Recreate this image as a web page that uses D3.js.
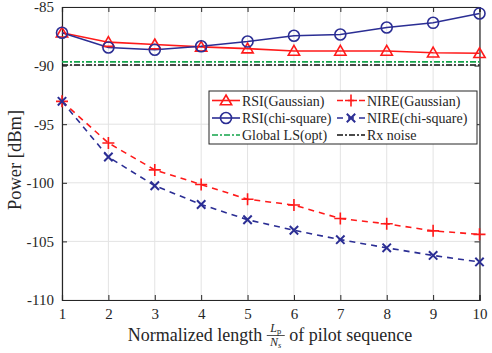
<!DOCTYPE html>
<html><head><meta charset="utf-8">
<script src="https://cdn.jsdelivr.net/npm/d3@7"></script>
<style>body{margin:0;background:#fff}svg{display:block}text{font-family:"Liberation Serif","Times New Roman",serif;fill:#262626}</style>
</head><body>
<script>
const xValues = [1,2,3,4,5,6,7,8,9,10];
const rsiGaussian = [-87.2,-88.0,-88.2,-88.4,-88.55,-88.75,-88.75,-88.75,-88.9,-88.95];
const rsiChi = [-87.2,-88.45,-88.65,-88.35,-87.95,-87.45,-87.35,-86.75,-86.35,-85.55];
const nireGaussian = [-93.05,-96.6,-98.9,-100.15,-101.4,-101.9,-103.05,-103.5,-104.1,-104.4];
const nireChi = [-93.05,-97.8,-100.25,-101.85,-103.15,-104.05,-104.85,-105.55,-106.2,-106.75];
const globalLS = -89.68;
const rxNoise = -89.95;
const xTicks = [1,2,3,4,5,6,7,8,9,10];
const yTicks = [-110,-105,-100,-95,-90,-85];

const W=492,H=353;
const m={l:62,r:12.5,t:7,b:53};
const svg=d3.select("body").append("svg").attr("width",W).attr("height",H);
const x=d3.scaleLinear().domain([1,10]).range([m.l,W-m.r]);
const y=d3.scaleLinear().domain([-110,-85]).range([H-m.b,m.t]);
const red="#ff1a1a", blue="#2b2e94", green="#13a44a", black="#111";
const SERIF="Liberation Serif";

// grid
const g=svg.append("g");
g.selectAll(".gx").data(xTicks).enter().append("line")
 .attr("x1",d=>x(d)).attr("x2",d=>x(d)).attr("y1",y(-110)).attr("y2",y(-85))
 .attr("stroke","#e3e3e3").attr("stroke-width",1);
g.selectAll(".gy").data(yTicks).enter().append("line")
 .attr("y1",d=>y(d)).attr("y2",d=>y(d)).attr("x1",x(1)).attr("x2",x(10))
 .attr("stroke","#e3e3e3").attr("stroke-width",1);

// axes
const ax=svg.append("g").attr("transform",`translate(0,${y(-110)})`)
 .call(d3.axisBottom(x).tickValues(xTicks).tickSize(-5).tickPadding(8).tickFormat(d3.format("d")));
const axT=svg.append("g").attr("transform",`translate(0,${y(-85)})`)
 .call(d3.axisTop(x).tickValues(xTicks).tickSize(-5).tickFormat(""));
const ay=svg.append("g").attr("transform",`translate(${x(1)},0)`)
 .call(d3.axisLeft(y).tickValues(yTicks).tickSize(-5).tickPadding(8).tickFormat(d=>d));
const ayR=svg.append("g").attr("transform",`translate(${x(10)},0)`)
 .call(d3.axisRight(y).tickValues(yTicks).tickSize(-5).tickFormat(""));
[ax,axT,ay,ayR].forEach(a=>{
  a.attr("font-family",SERIF).attr("font-size",15);
  a.selectAll("path").attr("stroke","#262626").attr("stroke-width",1.2);
  a.selectAll("line").attr("stroke","#262626");
  a.selectAll("text").attr("font-family",SERIF).attr("font-size",15).attr("fill","#262626");
});

// horizontal reference lines
svg.append("line").attr("x1",x(1)).attr("x2",x(10)).attr("y1",y(globalLS)).attr("y2",y(globalLS))
 .attr("stroke",green).attr("stroke-width",1.6).attr("stroke-dasharray","6,2,2,2");
svg.append("line").attr("x1",x(1)).attr("x2",x(10)).attr("y1",y(rxNoise)).attr("y2",y(rxNoise))
 .attr("stroke",black).attr("stroke-width",1.6).attr("stroke-dasharray","6,2,2,2");

const line=d3.line().x((d,i)=>x(xValues[i])).y(d=>y(d));
function series(data,color,dash){
  svg.append("path").datum(data).attr("d",line).attr("fill","none")
   .attr("stroke",color).attr("stroke-width",1.6).attr("stroke-dasharray",dash||null);
}
const tri=d3.symbol().type(d3.symbolTriangle).size(55);
function triMark(sel,cx,cy){sel.append("path").attr("d",tri).attr("transform",`translate(${cx},${cy+1})`).attr("fill","none").attr("stroke",red).attr("stroke-width",1.6);}
function circMark(sel,cx,cy){sel.append("circle").attr("cx",cx).attr("cy",cy).attr("r",5.5).attr("fill","none").attr("stroke",blue).attr("stroke-width",1.6);}
function plusMark(sel,cx,cy){const s=6;sel.append("path").attr("d",`M${cx-s},${cy}H${cx+s}M${cx},${cy-s}V${cy+s}`).attr("stroke",red).attr("stroke-width",1.6);}
function xMark(sel,cx,cy){const s=4.2;sel.append("path").attr("d",`M${cx-s},${cy-s}L${cx+s},${cy+s}M${cx-s},${cy+s}L${cx+s},${cy-s}`).attr("stroke",blue).attr("stroke-width",2);}

series(nireGaussian,red,"6,5");
series(nireChi,blue,"6,5");
series(rsiGaussian,red);
series(rsiChi,blue);
const mk=svg.append("g");
nireGaussian.forEach((v,i)=>plusMark(mk,x(xValues[i]),y(v)));
nireChi.forEach((v,i)=>xMark(mk,x(xValues[i]),y(v)));
rsiGaussian.forEach((v,i)=>triMark(mk,x(xValues[i]),y(v)));
rsiChi.forEach((v,i)=>circMark(mk,x(xValues[i]),y(v)));

// legend
const lg=svg.append("g");
lg.append("rect").attr("x",209).attr("y",91).attr("width",268).attr("height",53).attr("fill","#fff").attr("stroke","#262626").attr("stroke-width",1);
const rows=[100.5,118,135];
const legendItems=[
 {label:"RSI(Gaussian)",c:0,r:0,color:red,dash:null,mark:triMark},
 {label:"NIRE(Gaussian)",c:1,r:0,color:red,dash:"6,5",mark:plusMark},
 {label:"RSI(chi-square)",c:0,r:1,color:blue,dash:null,mark:circMark},
 {label:"NIRE(chi-square)",c:1,r:1,color:blue,dash:"6,5",mark:xMark},
 {label:"Global LS(opt)",c:0,r:2,color:green,dash:"6,2,2,2",mark:null},
 {label:"Rx noise",c:1,r:2,color:black,dash:"6,2,2,2",mark:null}
];
const colX=[212,337];
legendItems.forEach(it=>{
  const x0=colX[it.c], yy=rows[it.r];
  lg.append("line").attr("x1",x0).attr("x2",x0+28).attr("y1",yy).attr("y2",yy)
   .attr("stroke",it.color).attr("stroke-width",1.6).attr("stroke-dasharray",it.dash);
  if(it.mark) it.mark(lg,x0+14,yy);
  lg.append("text").attr("x",x0+30).attr("y",yy+5).style("font-size","14px").text(it.label);
});

// axis labels
svg.append("text").attr("transform",`translate(21,160) rotate(-90)`).attr("text-anchor","middle")
 .style("font-size","18.5px").text("Power [dBm]");
const xl=svg.append("text").attr("x",270).attr("y",341).attr("text-anchor","middle").style("font-size","18px");
xl.append("tspan").text("Normalized length ");
xl.append("tspan").text("\u2007\u2007");
xl.append("tspan").text(" of pilot sequence");
const parts=xl.selectAll("tspan").nodes();
const fx=parts[1].getStartPositionOfChar(0).x;
const fx2=parts[1].getEndPositionOfChar(1).x;
const fcx=(fx+fx2)/2;
svg.append("line").attr("x1",fcx-9).attr("x2",fcx+9).attr("y1",335.5).attr("y2",335.5).attr("stroke","#262626").attr("stroke-width",0.8);
const num=svg.append("text").attr("x",fcx).attr("y",332).attr("text-anchor","middle").style("font-size","12px").style("font-style","italic");
num.append("tspan").text("L");num.append("tspan").text("p").style("font-size","8.5px").style("font-style","normal").attr("dy",2);
const den=svg.append("text").attr("x",fcx).attr("y",346).attr("text-anchor","middle").style("font-size","12px").style("font-style","italic");
den.append("tspan").text("N");den.append("tspan").text("s").style("font-size","8.5px").attr("dy",2);
</script>
</body></html>
